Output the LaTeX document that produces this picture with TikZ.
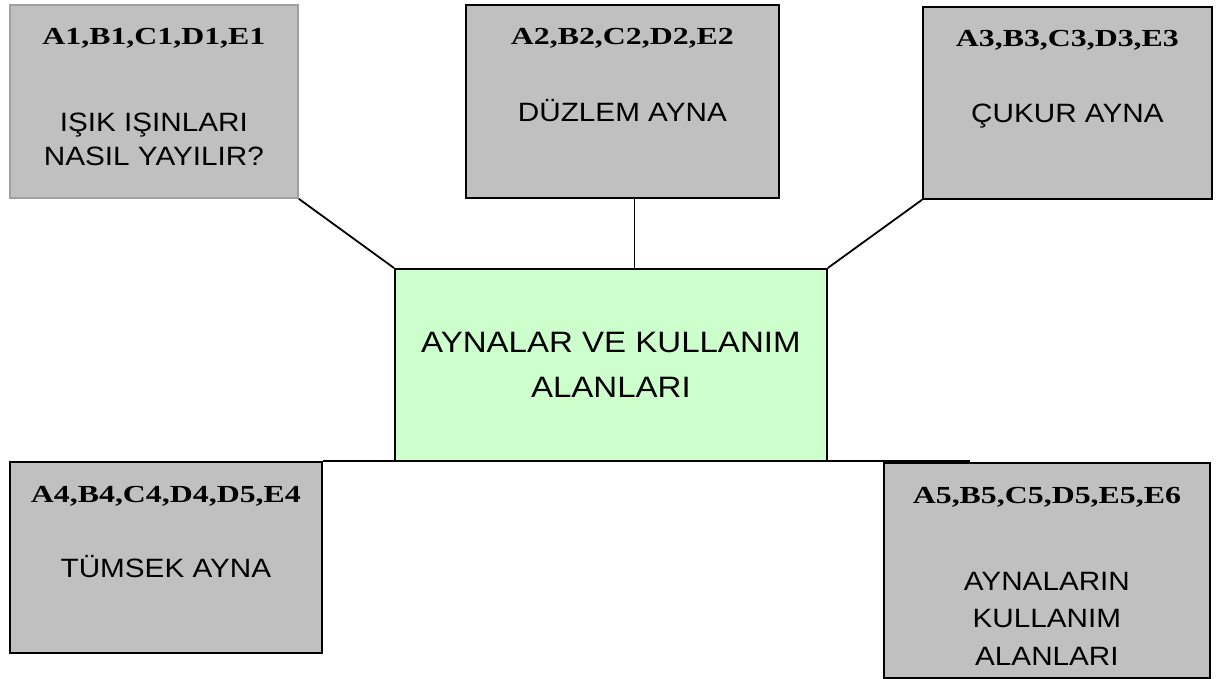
\documentclass[tikz,border=0pt]{standalone}
\usepackage{fontspec}
\setmainfont{Liberation Sans}[FakeStretch=1.12]
\newfontfamily\codefont{Liberation Serif}[FakeStretch=1.3]
\usepackage{tikz}
\usetikzlibrary{positioning}
\definecolor{boxgray}{HTML}{C0C0C0}
\definecolor{rimgray}{HTML}{A0A0A0}
\definecolor{mintgreen}{HTML}{CCFFCC}

\begin{document}
\begin{tikzpicture}[
    x=1pt, y=-1pt,
    topicbox/.style={rectangle, draw, line width=1.8pt, fill=boxgray, anchor=north west, inner sep=0pt},
    mainbox/.style={rectangle, draw, line width=1.8pt, fill=mintgreen, anchor=north west, inner sep=0pt},
    codes/.style={font=\codefont\bfseries\fontsize{24.5}{28}\selectfont, inner sep=0pt, anchor=base},
    topic/.style={font=\fontsize{26.5}{35}\selectfont, align=center, inner sep=0pt, anchor=base},
    link/.style={line width=1.8pt},
]
\useasboundingbox (0,0) rectangle (1223,679);

% boxes
\node[topicbox, draw=rimgray, minimum width=288pt, minimum height=193pt] (rays) at (9,4) {};
\node[topicbox, minimum width=313pt, minimum height=193pt] (plane) at (465,4) {};
\node[topicbox, minimum width=289pt, minimum height=192pt] (concave) at (922,6) {};
\node[mainbox, minimum width=432pt, minimum height=192pt] (mirrors) at (394,268) {};
\node[topicbox, minimum width=312pt, minimum height=191pt] (convex) at (9,461) {};
\node[topicbox, minimum width=326pt, minimum height=215pt] (uses) at (883,462) {};

% texts (base = last line)
\node[codes] (raysc) at ([yshift=-41pt]rays.north) {A1,B1,C1,D1,E1};
\node[topic, font=\fontsize{26.5}{34}\selectfont] (rayst) at ([yshift=-162pt]rays.north) {IŞIK IŞINLARI\\NASIL YAYILIR?};
\node[codes] (planec) at ([yshift=-41pt]plane.north) {A2,B2,C2,D2,E2};
\node[topic] (planet) at ([yshift=-118pt]plane.north) {DÜZLEM AYNA};
\node[codes] (concavec) at ([yshift=-41pt]concave.north) {A3,B3,C3,D3,E3};
\node[topic] (concavet) at ([yshift=-117pt]concave.north) {ÇUKUR AYNA};
\node[topic, font=\fontsize{29.5}{45}\selectfont] (mirrorst) at ([yshift=-129pt]mirrors.north) {AYNALAR VE KULLANIM\\ALANLARI};
\node[codes] (convexc) at ([yshift=-41pt]convex.north) {A4,B4,C4,D4,D5,E4};
\node[topic] (convext) at ([yshift=-116pt]convex.north) {TÜMSEK AYNA};
\node[codes] (usesc) at ([yshift=-41pt]uses.north) {A5,B5,C5,D5,E5,E6};
\node[topic, font=\fontsize{26.5}{37.5}\selectfont] (usest) at ([yshift=-203pt]uses.north) {AYNALARIN\\KULLANIM\\ALANLARI};

% connectors
\coordinate (baseend) at (970,461);
\draw[link] (rays.south east) -- (mirrors.north west);
\draw[link] ([xshift=12pt]plane.south) -- ([xshift=12pt]plane.south |- mirrors.north);
\draw[link] (concave.south west) -- (mirrors.north east);
\draw[link] (convex.north east) -- (baseend);
\end{tikzpicture}
\end{document}
